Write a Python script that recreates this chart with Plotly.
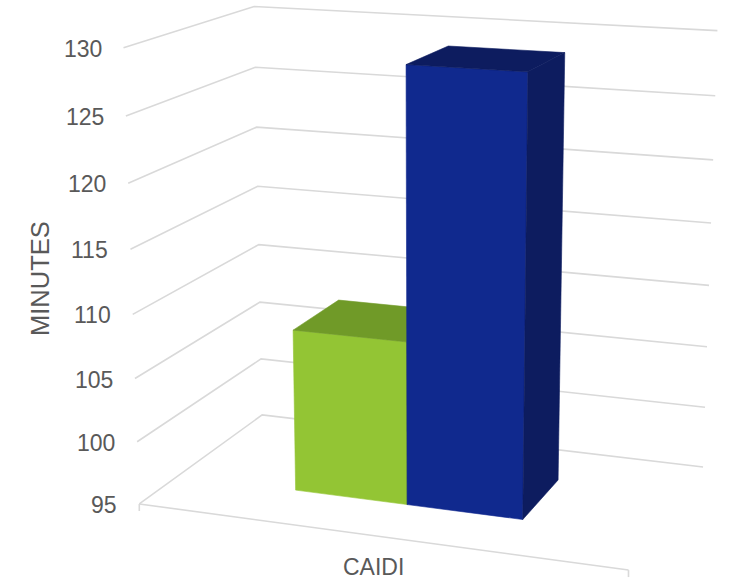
import numpy as np
import plotly.graph_objects as go

# ---------------- data ----------------
categories = ["CAIDI"]
series_names = ["Series 1", "Series 2"]
values = [107.9, 128.8]
tick_vals = [95, 100, 105, 110, 115, 120, 125, 130]
tick_labels = [str(t) for t in tick_vals]
axis_title = "MINUTES"

# ---------------- style ----------------
front_colors = ["#93C534", "#10298E"]
top_colors = ["#709A28", "#0D1C5F"]
side_colors = ["#5E8221", "#0D1C5F"]
grid_color = "#D9D9D9"
text_color = "#595959"
font_family = "Liberation Sans, Arial, sans-serif"
zmin, zmax = tick_vals[0], tick_vals[-1]

# 3-D view (Excel-like perspective): box width/depth relative to height, rotation, elevation,
# camera distance, focal length (px) and screen position of the box centre (px)
BOX_W, BOX_D = 1.098, 0.653
YAW, PITCH = np.radians(20.0), np.radians(14.6)
DIST, FOCAL, CX, CY = 4.848, 2233.0, 427.7, 267.8
# bar layout inside one category (fractions of the category width / floor depth)
BAR_LEFT, BAR_WIDTH = 0.26, 0.24
BAR_FRONT, BAR_BACK = 0.30, 0.70


def cam_basis():
    c = np.array([BOX_W / 2, BOX_D / 2, 0.5])
    e = c + DIST * np.array([np.sin(YAW) * np.cos(PITCH), -np.cos(YAW) * np.cos(PITCH), np.sin(PITCH)])
    F = (c - e) / DIST
    R = np.array([np.cos(YAW), np.sin(YAW), 0.0])
    U = np.cross(R, F)
    return e, F, R, U


def project(xyz):
    xyz = np.atleast_2d(np.asarray(xyz, float))
    P = xyz * np.array([BOX_W, BOX_D, 1.0])
    e, F, R, U = cam_basis()
    v = P - e
    dz = v @ F
    return CX + FOCAL * (v @ R) / dz, CY - FOCAL * (v @ U) / dz


def zn(v):
    return (v - zmin) / (zmax - zmin)


fig = go.Figure()

# gridlines on side wall and back wall
for t in tick_vals:
    u, w = project([(0, 0, zn(t)), (0, 1, zn(t)), (1, 1, zn(t))])
    fig.add_trace(go.Scatter(x=u, y=w, mode="lines", line=dict(color=grid_color, width=1.6),
                             hoverinfo="skip", showlegend=False))
# floor front edge (category axis) with boundary ticks
u, w = project([(0, 0, 0), (1, 0, 0)])
fig.add_trace(go.Scatter(x=u, y=w, mode="lines", line=dict(color=grid_color, width=1.6),
                         hoverinfo="skip", showlegend=False))
for k in range(2):
    fig.add_trace(go.Scatter(x=[u[k], u[k]], y=[w[k], w[k] + 7], mode="lines",
                             line=dict(color=grid_color, width=1.6), hoverinfo="skip", showlegend=False))


def face(pts, color, name, val):
    u, w = project(pts)
    fig.add_trace(go.Scatter(x=list(u) + [u[0]], y=list(w) + [w[0]], mode="lines", fill="toself",
                             fillcolor=color, line=dict(color=color, width=0.6),
                             name=name, text="%s: %s" % (name, val), hoverinfo="text", showlegend=False))


y0, y1 = BAR_FRONT, BAR_BACK
for i, v in enumerate(values):
    x0 = BAR_LEFT + i * BAR_WIDTH
    x1 = x0 + BAR_WIDTH
    h = zn(v)
    face([(x0, y0, 0), (x1, y0, 0), (x1, y0, h), (x0, y0, h)], front_colors[i], series_names[i], v)
    face([(x0, y0, h), (x1, y0, h), (x1, y1, h), (x0, y1, h)], top_colors[i], series_names[i], v)
    face([(x1, y0, 0), (x1, y1, 0), (x1, y1, h), (x1, y0, h)], side_colors[i], series_names[i], v)

annotations = []
for t, lab in zip(tick_vals, tick_labels):
    u, w = project([(0, 0, zn(t))])
    annotations.append(dict(x=u[0] - 20, y=w[0] + 1, text=lab, xref="x", yref="y", showarrow=False,
                            xanchor="right", yanchor="middle",
                            font=dict(size=23, color=text_color, family=font_family)))
u, w = project([(0.5, 0, 0)])
annotations.append(dict(x=u[0] - 1, y=w[0] + 31, text=categories[0], xref="x", yref="y", showarrow=False,
                        xanchor="center", yanchor="middle",
                        font=dict(size=23, color=text_color, family=font_family)))
u, w = project([(0, 0, 0.5)])
annotations.append(dict(x=40, y=w[0] - 3, text=axis_title, xref="x", yref="y", showarrow=False, textangle=-90,
                        xanchor="center", yanchor="middle",
                        font=dict(size=25.5, color=text_color, family=font_family)))

fig.update_layout(width=733, height=582, margin=dict(l=0, r=0, t=0, b=0),
                  paper_bgcolor="white", plot_bgcolor="white", annotations=annotations,
                  xaxis=dict(range=[0, 733], visible=False, fixedrange=True),
                  yaxis=dict(range=[582, 0], visible=False, fixedrange=True), showlegend=False)
fig.write_html("out.html", config={"displayModeBar": False},
               post_script="document.body.style.margin='0px';")
